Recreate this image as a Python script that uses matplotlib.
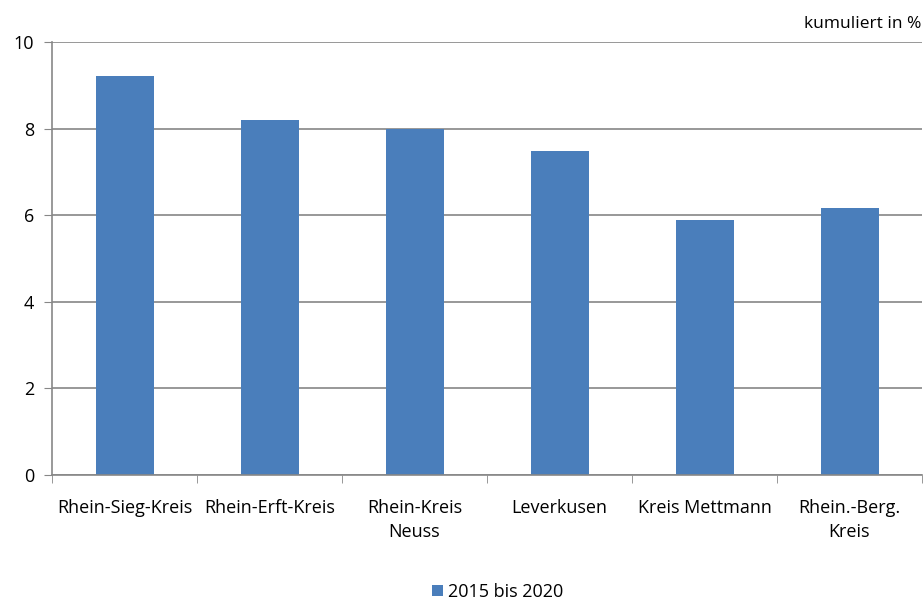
import numpy as np
import matplotlib.pyplot as plt

plt.rcParams['font.family'] = ['Open Sans', 'DejaVu Sans']

kreise = ["Rhein-Sieg-Kreis", "Rhein-Erft-Kreis", "Rhein-Kreis\nNeuss",
          "Leverkusen", "Kreis Mettmann", "Rhein.-Berg.\nKreis"]
werte_2015_2020 = [9.22, 8.2, 7.99, 7.48, 5.89, 6.17]
y_ticks = [0, 2, 4, 6, 8, 10]

fig = plt.figure(figsize=(9.23, 6.01), dpi=100)
ax = fig.add_axes([52 / 923, 1 - 475 / 601, (922 - 52) / 923, (475 - 42) / 601])

x = np.arange(len(kreise))
ax.bar(x, werte_2015_2020, width=0.4, color="#4a7ebb", label="2015 bis 2020", zorder=2)

ax.set_xlim(-0.5, len(kreise) - 0.5)
ax.set_ylim(0, 10)
ax.set_yticks(y_ticks)
ax.tick_params(axis="y", length=6, color="#878787", labelsize=13, pad=7)
ax.set_xticks(x)
ax.set_xticklabels(kreise, fontsize=13, linespacing=1.45)
ax.tick_params(axis="x", length=0, pad=17)
ax.set_xticks(np.arange(-0.5, len(kreise)), minor=True)
ax.tick_params(axis="x", which="minor", length=6, color="#878787")

ax.grid(axis="y", color="#868686", linewidth=1.2, zorder=0)
for s in ["top", "right"]:
    ax.spines[s].set_visible(False)
for s in ["left", "bottom"]:
    ax.spines[s].set_color("#878787")
    ax.spines[s].set_linewidth(1.2)

fig.text(0.998, 1 - 24 / 601, "kumuliert in %", ha="right", va="center", fontsize=12.5)

fig.legend(loc="center", bbox_to_anchor=(498 / 923, 1 - 592 / 601), frameon=False,
           fontsize=13, handlelength=0.6, handleheight=0.6, handletextpad=0.3)

plt.savefig("out.png", dpi=100)
